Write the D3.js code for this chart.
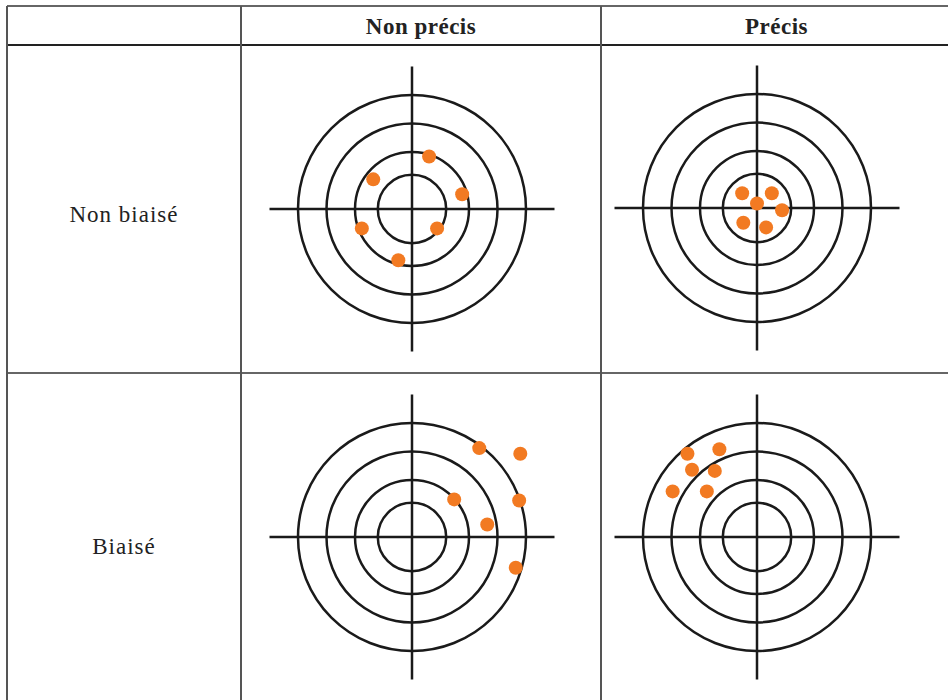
<!DOCTYPE html>
<html>
<head>
<meta charset="utf-8">
<script src="https://cdn.jsdelivr.net/npm/d3@7"></script>
<style>
  body { margin: 0; background: #fff; }
  text { font-family: "Liberation Serif", "DejaVu Serif", serif; fill: #222; }
</style>
</head>
<body>
<svg id="chart" width="948" height="700"></svg>
<script>
// column / row labels
var colLabels = ["Non précis", "Précis"];
var rowLabels = ["Non biaisé", "Biaisé"];

// ring radii, in units of the outer ring
var rings = [0.30, 0.50, 0.75, 1.0];

// shots for each cell (x right, y up, outer ring = 1)
var shotsNonBiaiseNonPrecis = [
  [0.15, 0.46], [-0.34, 0.26], [0.44, 0.13],
  [-0.44, -0.17], [0.22, -0.17], [-0.12, -0.45]
];
var shotsNonBiaisePrecis = [
  [-0.13, 0.13], [0.13, 0.13], [0.0, 0.04],
  [0.22, -0.02], [-0.12, -0.13], [0.08, -0.17]
];
var shotsBiaiseNonPrecis = [
  [0.59, 0.78], [0.95, 0.73], [0.37, 0.33],
  [0.94, 0.32], [0.66, 0.11], [0.91, -0.27]
];
var shotsBiaisePrecis = [
  [-0.61, 0.73], [-0.33, 0.77], [-0.57, 0.59],
  [-0.37, 0.58], [-0.74, 0.40], [-0.44, 0.40]
];

var svg = d3.select("#chart");

// table grid
var colX = [7, 241, 601, 952];
var rowY = [6, 45, 373, 702];
var grid = svg.append("g");

// horizontal rules
grid.selectAll("line.h")
    .data(rowY)
    .enter().append("line")
    .attr("class", "h")
    .attr("x1", colX[0]).attr("x2", colX[3])
    .attr("y1", d => d).attr("y2", d => d)
    .attr("stroke", (d, i) => i == 1 ? "#222" : "#666")
    .attr("stroke-width", 2);

// vertical rules
grid.selectAll("line.v")
    .data(colX)
    .enter().append("line")
    .attr("class", "v")
    .attr("y1", rowY[0]).attr("y2", rowY[3])
    .attr("x1", d => d).attr("x2", d => d)
    .attr("stroke", "#555")
    .attr("stroke-width", 2);

// header text
svg.selectAll("text.col")
    .data(colLabels)
    .enter().append("text")
    .attr("class", "col")
    .attr("x", (d, i) => (colX[i + 1] + colX[i + 2]) / 2)
    .attr("y", 34)
    .attr("text-anchor", "middle")
    .style("font-size", "23px")
    .style("font-weight", "bold")
    .style("letter-spacing", "0.5px")
    .text(d => d);

// row labels
svg.selectAll("text.row")
    .data(rowLabels)
    .enter().append("text")
    .attr("class", "row")
    .attr("x", (colX[0] + colX[1]) / 2)
    .attr("y", (d, i) => (rowY[i + 1] + rowY[i + 2]) / 2 + 13 + i * 3)
    .attr("text-anchor", "middle")
    .style("font-size", "23px")
    .style("letter-spacing", "1px")
    .text(d => d);

// targets
var cells = [
  { cx: 412, cy: 209, shots: shotsNonBiaiseNonPrecis },
  { cx: 757, cy: 208, shots: shotsNonBiaisePrecis },
  { cx: 412, cy: 537, shots: shotsBiaiseNonPrecis },
  { cx: 757, cy: 537, shots: shotsBiaisePrecis }
];

var x = d3.scaleLinear().domain([-1, 1]).range([-114, 114]);
var y = d3.scaleLinear().domain([-1, 1]).range([114, -114]);
var arm = 1.25;

cells.forEach(function (c) {
    var g = svg.append("g")
        .attr("transform", "translate(" + c.cx + "," + c.cy + ")");

    g.selectAll("circle.ring")
        .data(rings)
        .enter().append("circle")
        .attr("class", "ring")
        .attr("r", d => x(d) - x(0))
        .attr("fill", "none")
        .attr("stroke", "#1a1a1a")
        .attr("stroke-width", 2.5);

    g.append("line")
        .attr("x1", x(-arm)).attr("x2", x(arm))
        .attr("y1", 0).attr("y2", 0)
        .attr("stroke", "#1a1a1a").attr("stroke-width", 2.5);
    g.append("line")
        .attr("y1", y(arm)).attr("y2", y(-arm))
        .attr("x1", 0).attr("x2", 0)
        .attr("stroke", "#1a1a1a").attr("stroke-width", 2.5);

    g.selectAll("circle.shot")
        .data(c.shots)
        .enter().append("circle")
        .attr("class", "shot")
        .attr("cx", d => x(d[0]))
        .attr("cy", d => y(d[1]))
        .attr("r", 7)
        .attr("fill", "#f27a22");
});
</script>
</body>
</html>
